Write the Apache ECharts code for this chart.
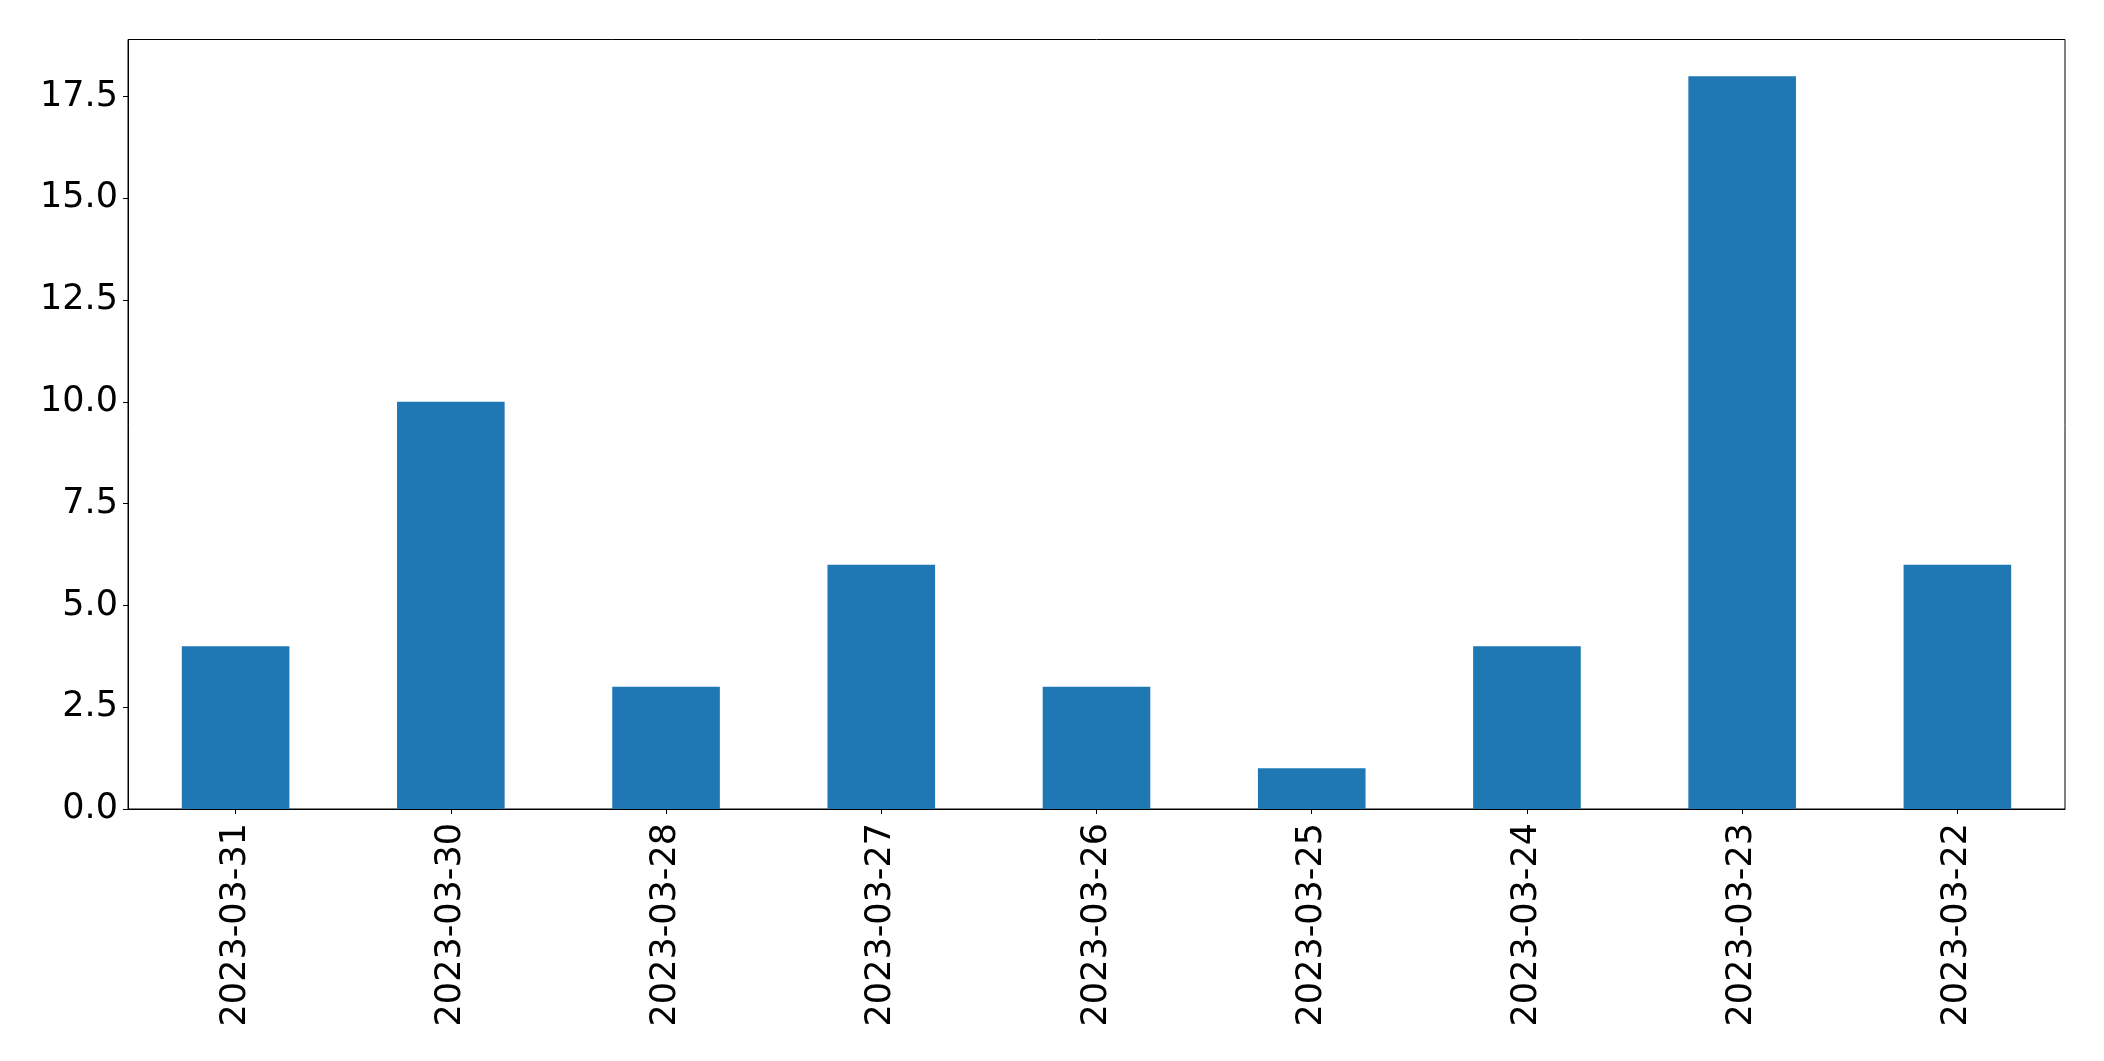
<!DOCTYPE html>
<html>
<head>
<meta charset="utf-8">
<script src="https://cdn.jsdelivr.net/npm/echarts@6/dist/echarts.min.js"></script>
<style>
html,body{margin:0;padding:0;background:#fff;}
#chart{width:2104px;height:1061px;}
</style>
</head>
<body>
<div id="chart"></div>
<script>
const categories = ['2023-03-31','2023-03-30','2023-03-28','2023-03-27','2023-03-26','2023-03-25','2023-03-24','2023-03-23','2023-03-22'];
const values = [4, 10, 3, 6, 3, 1, 4, 18, 6];
const yTicks = [0, 2.5, 5, 7.5, 10, 12.5, 15, 17.5];
const yMax = 18.9;

const chart = echarts.init(document.getElementById('chart'), null, {renderer: 'canvas'});
const font = 'DejaVu Sans';
chart.setOption({
  animation: false,
  backgroundColor: '#ffffff',
  grid: {left: 128, right: 39, top: 39.5, bottom: 252, show: true, borderColor: '#000', borderWidth: 1, containLabel: false},
  xAxis: {
    type: 'category',
    data: categories,
    axisLine: {show: true, lineStyle: {color: '#000', width: 1}},
    axisTick: {show: true, alignWithLabel: true, length: 5, lineStyle: {color: '#000', width: 1}},
    axisLabel: {rotate: 90, margin: 14, fontFamily: font, fontSize: 35, color: '#000', interval: 0}
  },
  yAxis: {
    type: 'value',
    min: 0,
    max: yMax,
    splitLine: {show: false},
    axisLine: {show: true, lineStyle: {color: '#000', width: 1}},
    axisTick: {show: true, length: 5, customValues: yTicks, lineStyle: {color: '#000', width: 1}},
    axisLabel: {customValues: yTicks, margin: 10, fontFamily: font, fontSize: 35, color: '#000',
      formatter: v => v.toFixed(1)}
  },
  series: [{
    type: 'bar',
    data: values,
    barWidth: '50%',
    itemStyle: {color: '#1f77b4'}
  }]
});
</script>
</body>
</html>
